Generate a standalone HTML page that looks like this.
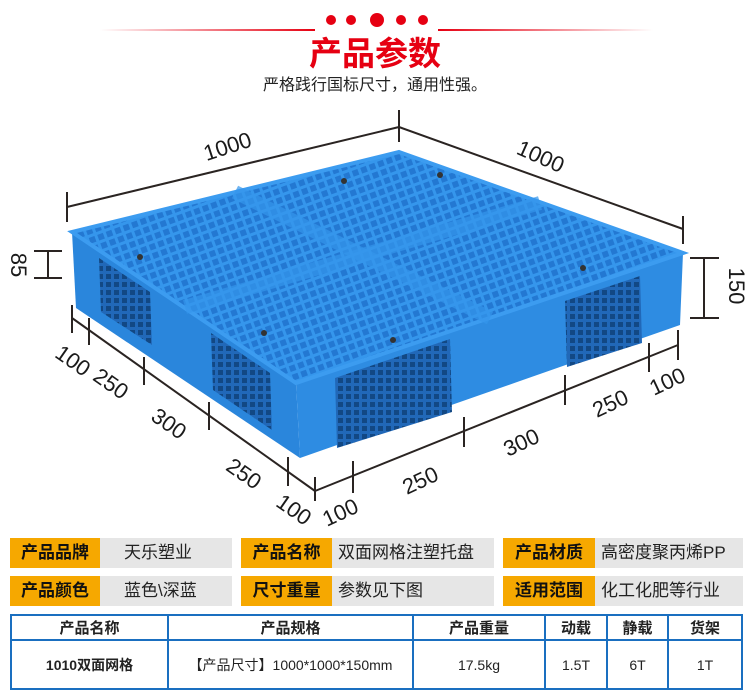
<!DOCTYPE html>
<html><head><meta charset="utf-8"><style>
body{margin:0;width:750px;height:700px;background:#fff;overflow:hidden;font-family:"Liberation Sans","Noto Sans CJK SC",sans-serif;position:relative}
.a{position:absolute}
.or{position:absolute;background:#f6a800;color:#111;font-weight:bold;font-size:17px;line-height:30px;text-align:center}
.gr{position:absolute;background:#e6e6e6;color:#222;font-size:17px;line-height:30px;padding-left:6px;box-sizing:border-box}
table{position:absolute;left:10px;top:614px;width:733px;height:76px;border-collapse:collapse;border:2px solid #1a6fc0}
td{border:2px solid #1a6fc0;text-align:center;font-size:14px;color:#222;padding:0}
tr.h td{font-weight:bold;font-size:15px;height:23px}
</style></head><body>
<svg class="a" style="left:0;top:0" width="750" height="530">
<defs>
<linearGradient id="gl" x1="0" x2="1"><stop offset="0" stop-color="#e60012" stop-opacity="0"/><stop offset="1" stop-color="#e60012"/></linearGradient>
<linearGradient id="gr" x1="0" x2="1"><stop offset="0" stop-color="#e60012"/><stop offset="1" stop-color="#e60012" stop-opacity="0"/></linearGradient>
<pattern id="grid" width="9" height="9" patternUnits="userSpaceOnUse" patternTransform="rotate(-20)">
<rect width="9" height="9" fill="#3596ec"/><rect x="2" y="2" width="6" height="6" fill="#2378d2"/></pattern>
<pattern id="grid2" width="8" height="8" patternUnits="userSpaceOnUse">
<rect width="8" height="8" fill="#2168b8"/><rect x="2" y="2" width="5" height="5" fill="#124884"/></pattern>
</defs>
<rect x="100" y="29" width="215" height="2" fill="url(#gl)"/>
<rect x="438" y="29" width="215" height="2" fill="url(#gr)"/>
<g fill="#e60012"><circle cx="331" cy="20" r="5"/><circle cx="351" cy="20" r="5"/><circle cx="377" cy="20" r="7"/><circle cx="401" cy="20" r="5"/><circle cx="423" cy="20" r="5"/></g>
<polygon points="72,232 296,383 300,458 76,308" fill="#2a86dc"/>
<polygon points="296,383 683,253 680,325 300,458" fill="#2e8ce2"/>
<polygon points="99,258 150,292 152,345 101,312" fill="url(#grid2)"/>
<polygon points="211,333 270,373 272,430 213,390" fill="url(#grid2)"/>
<polygon points="335,378 450,339 452,412 337,448" fill="url(#grid2)"/>
<polygon points="565,301 640,276 642,343 567,367" fill="url(#grid2)"/>
<polygon points="399,152 683,253 296,383 72,232" fill="url(#grid)" stroke="#3c9cf0" stroke-width="4"/>
<line x1="185" y1="307" x2="540" y2="203" stroke="#3596ec" stroke-width="14" opacity=".7"/>
<line x1="235" y1="192" x2="490" y2="318" stroke="#3596ec" stroke-width="14" opacity=".7"/>
<g fill="#333"><circle cx="344" cy="181" r="3"/><circle cx="440" cy="175" r="3"/><circle cx="583" cy="268" r="3"/><circle cx="140" cy="257" r="3"/><circle cx="264" cy="333" r="3"/><circle cx="393" cy="340" r="3"/></g>
<g stroke="#2a2422" stroke-width="2" fill="none">
<line x1="67" y1="207" x2="399" y2="127"/><line x1="67" y1="192" x2="67" y2="222"/><line x1="399" y1="110" x2="399" y2="142"/>
<line x1="399" y1="127" x2="683" y2="229"/><line x1="683" y1="216" x2="683" y2="244"/>
<line x1="48" y1="251" x2="48" y2="278"/><line x1="34" y1="251" x2="62" y2="251"/><line x1="34" y1="278" x2="62" y2="278"/>
<line x1="704" y1="258" x2="704" y2="318"/><line x1="690" y1="258" x2="719" y2="258"/><line x1="690" y1="318" x2="719" y2="318"/>
<line x1="72" y1="318" x2="315" y2="491"/>
<line x1="72" y1="305" x2="72" y2="333"/><line x1="89" y1="318" x2="89" y2="345"/><line x1="144" y1="357" x2="144" y2="385"/><line x1="209" y1="402" x2="209" y2="430"/><line x1="288" y1="457" x2="288" y2="486"/><line x1="315" y1="477" x2="315" y2="501"/>
<line x1="315" y1="491" x2="678" y2="345"/>
<line x1="353" y1="461" x2="353" y2="493"/><line x1="464" y1="417" x2="464" y2="447"/><line x1="565" y1="375" x2="565" y2="405"/><line x1="649" y1="343" x2="649" y2="372"/><line x1="678" y1="330" x2="678" y2="360"/>
</g>
<g font-family="Liberation Sans,sans-serif" font-size="22" fill="#1a1a1a" text-anchor="middle" dominant-baseline="middle">
<text transform="translate(228,148) rotate(-18)">1000</text>
<text transform="translate(540,158) rotate(24)">1000</text>
<text transform="translate(17,265) rotate(90)">85</text>
<text transform="translate(735,286) rotate(90)">150</text>
<text transform="translate(72,362) rotate(35)">100</text>
<text transform="translate(110,385) rotate(35)">250</text>
<text transform="translate(168,425) rotate(35)">300</text>
<text transform="translate(243,475) rotate(35)">250</text>
<text transform="translate(293,511) rotate(35)">100</text>
<text transform="translate(341,514) rotate(-25)">100</text>
<text transform="translate(421,482) rotate(-25)">250</text>
<text transform="translate(522,444) rotate(-25)">300</text>
<text transform="translate(611,405) rotate(-25)">250</text>
<text transform="translate(668,383) rotate(-25)">100</text>
</g>
</svg>
<div class="a" style="left:0;width:750px;top:34px;text-align:center;color:#e60012;font-size:33px;font-weight:bold;line-height:40px">产品参数</div>
<div class="a" style="left:0;width:750px;top:75px;text-align:center;color:#222;font-size:16px;line-height:22px">严格践行国标尺寸，通用性强。</div>

<div class="or" style="left:10px;top:538px;width:90px">产品品牌</div><div class="gr" style="left:100px;top:538px;width:132px;padding-left:24px">天乐塑业</div>
<div class="or" style="left:241px;top:538px;width:91px">产品名称</div><div class="gr" style="left:332px;top:538px;width:162px">双面网格注塑托盘</div>
<div class="or" style="left:503px;top:538px;width:92px">产品材质</div><div class="gr" style="left:595px;top:538px;width:148px">高密度聚丙烯PP</div>
<div class="or" style="left:10px;top:576px;width:90px">产品颜色</div><div class="gr" style="left:100px;top:576px;width:132px;padding-left:24px">蓝色\深蓝</div>
<div class="or" style="left:241px;top:576px;width:91px">尺寸重量</div><div class="gr" style="left:332px;top:576px;width:162px">参数见下图</div>
<div class="or" style="left:503px;top:576px;width:92px">适用范围</div><div class="gr" style="left:595px;top:576px;width:148px">化工化肥等行业</div>

<table>
<tr class="h"><td style="width:155px">产品名称</td><td style="width:243px">产品规格</td><td style="width:130px">产品重量</td><td style="width:60px">动载</td><td style="width:59px">静载</td><td>货架</td></tr>
<tr><td style="font-weight:bold">1010双面网格</td><td>【产品尺寸】1000*1000*150mm</td><td>17.5kg</td><td>1.5T</td><td>6T</td><td>1T</td></tr>
</table>
</body></html>
